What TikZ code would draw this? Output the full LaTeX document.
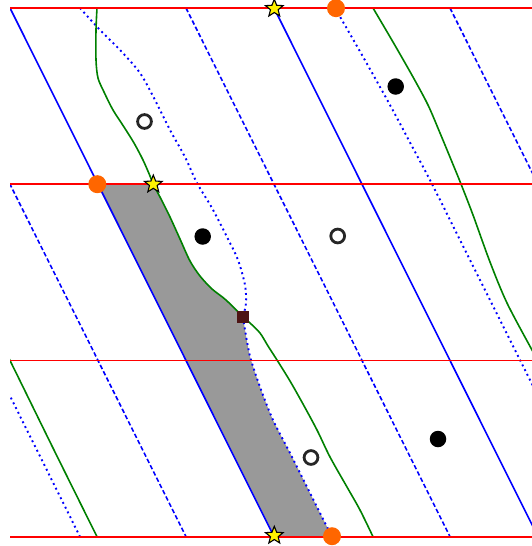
\documentclass[tikz,border=0pt]{standalone}
\usetikzlibrary{shapes.geometric}
\definecolor{myred}{RGB}{255,0,0}
\definecolor{myblue}{RGB}{0,0,255}
\definecolor{mygreen}{RGB}{0,128,0}
\definecolor{myorange}{RGB}{255,102,0}
\definecolor{mymaroon}{RGB}{77,20,20}
\definecolor{mygray}{RGB}{153,153,153}
\begin{document}
\begin{tikzpicture}[x={(1pt,0pt)}, y={(0pt,-1pt)},
  redline/.style={myred, line width=1.8pt},
  solidblue/.style={myblue, line width=1.6pt},
  dashblue/.style={myblue, line width=1.6pt, dash pattern=on 4.5pt off 2.5pt},
  dotblue/.style={myblue, line width=1.9pt, dash pattern=on 1.9pt off 3.4pt},
  greencurve/.style={mygreen, line width=1.6pt},
  starmark/.style={star, star points=5, star point ratio=2.3, minimum size=18.5pt, inner sep=0pt, draw=black, line width=1.1pt, fill=yellow},
  orangedot/.style={circle, fill=myorange, minimum size=18pt, inner sep=0pt},
  blackdot/.style={circle, fill=black, minimum size=16.5pt, inner sep=0pt},
  ringmark/.style={circle, draw=black!85, line width=2.8pt, minimum size=13.8pt, inner sep=0pt},
  squaremark/.style={rectangle, fill=mymaroon, minimum size=12.5pt, inner sep=0pt},
  shaded/.style={fill=mygray}]
\useasboundingbox (0,0) rectangle (532,546);
\begin{scope}
\clip (10,8) rectangle (532,536.7);
% shaded region
\fill[shaded] (97,184.2) -- (153,184.2)
  -- plot[smooth] coordinates {(153,184.2) (160,197) (170,217) (180,239) (190,261) (200,276) (212,289) (226,300) (243,317)}
  -- plot[smooth] coordinates {(243,317) (245,330) (248,347) (251,360) (260,387) (273,420) (290,453) (307,487) (320,513) (332,536.7)}
  -- (274,536.7) -- cycle;
% solid blue
\draw[solidblue] (10,8) -- (274,536.7);
\draw[solidblue] (274,8) -- (538,536.7);
% dashed blue
\draw[dashblue] (-78,8) -- (186,536.7);
\draw[dashblue] (186,8) -- (450,536.7);
\draw[dashblue] (450,8) -- (714,536.7);
% dotted blue curve A
\draw[dotblue] plot[smooth] coordinates {(80,8) (100,30) (120,50) (140,73) (155,100) (170,130) (185,157) (197,183) (212,208) (227,237) (238,260) (245,285) (246,303) (243,317)};
\draw[dotblue] plot[smooth] coordinates {(243,317) (245,330) (248,347) (251,360) (260,387) (273,420) (290,453) (307,487) (320,513) (332,536.7)};
% dotted blue curve B, right green curve, and their wrapped copies
\foreach \s in {0,-528}{
  \begin{scope}[xshift=\s pt]
  \draw[dotblue] plot[smooth] coordinates {(335,8) (362,55) (390,105) (414,150) (432,184) (470,260) (532,384) (608,536.7)};
  \draw[greencurve] plot[smooth] coordinates {(373,8) (393,42) (413,77) (428,105) (440,133) (452,162) (461,184) (473,215) (490,262) (507,303) (532,350) (538,360.5) (581,448) (625,536.7)};
  \end{scope}
}
% green curve
\draw[greencurve] plot[smooth] coordinates {(97,8) (96,30) (96,60) (98,78) (104,92) (113,110) (124,127) (134,143) (143,160) (150,176) (153,184.2)};
\draw[greencurve] plot[smooth] coordinates {(153,184.2) (160,197) (170,217) (180,239) (190,261) (200,276) (212,289) (226,300) (243,317)};
\draw[greencurve] plot[smooth] coordinates {(243,317) (250,323) (260,333) (268,346) (277,360) (290,381) (303,404) (317,430) (330,457) (347,487) (360,510) (373,536.7)};
\end{scope}
% red horizontal lines
\draw[redline] (10,8) -- (532,8);
\draw[redline] (10,184.2) -- (532,184.2);
\draw[redline] (10,360.5) -- (532,360.5);
\draw[redline] (10,536.7) -- (532,536.7);
% markers
\node[ringmark] (r1) at (144.5,121.5) {};
\node[ringmark] (r2) at (337.7,236) {};
\node[ringmark] (r3) at (311,457.5) {};
\node[blackdot] (b1) at (395.7,86.5) {};
\node[blackdot] (b2) at (202.7,236.5) {};
\node[blackdot] (b3) at (438,439) {};
\node[squaremark] (q) at (243,317) {};
\node[orangedot] (o1) at (336,8.2) {};
\node[orangedot] (o2) at (97.3,184.2) {};
\node[orangedot] (o3) at (332,536.2) {};
\node[starmark] (s1) at (274.3,8.5) {};
\node[starmark] (s2) at (153.3,184.3) {};
\node[starmark] (s3) at (274.3,535.5) {};
\end{tikzpicture}
\end{document}
